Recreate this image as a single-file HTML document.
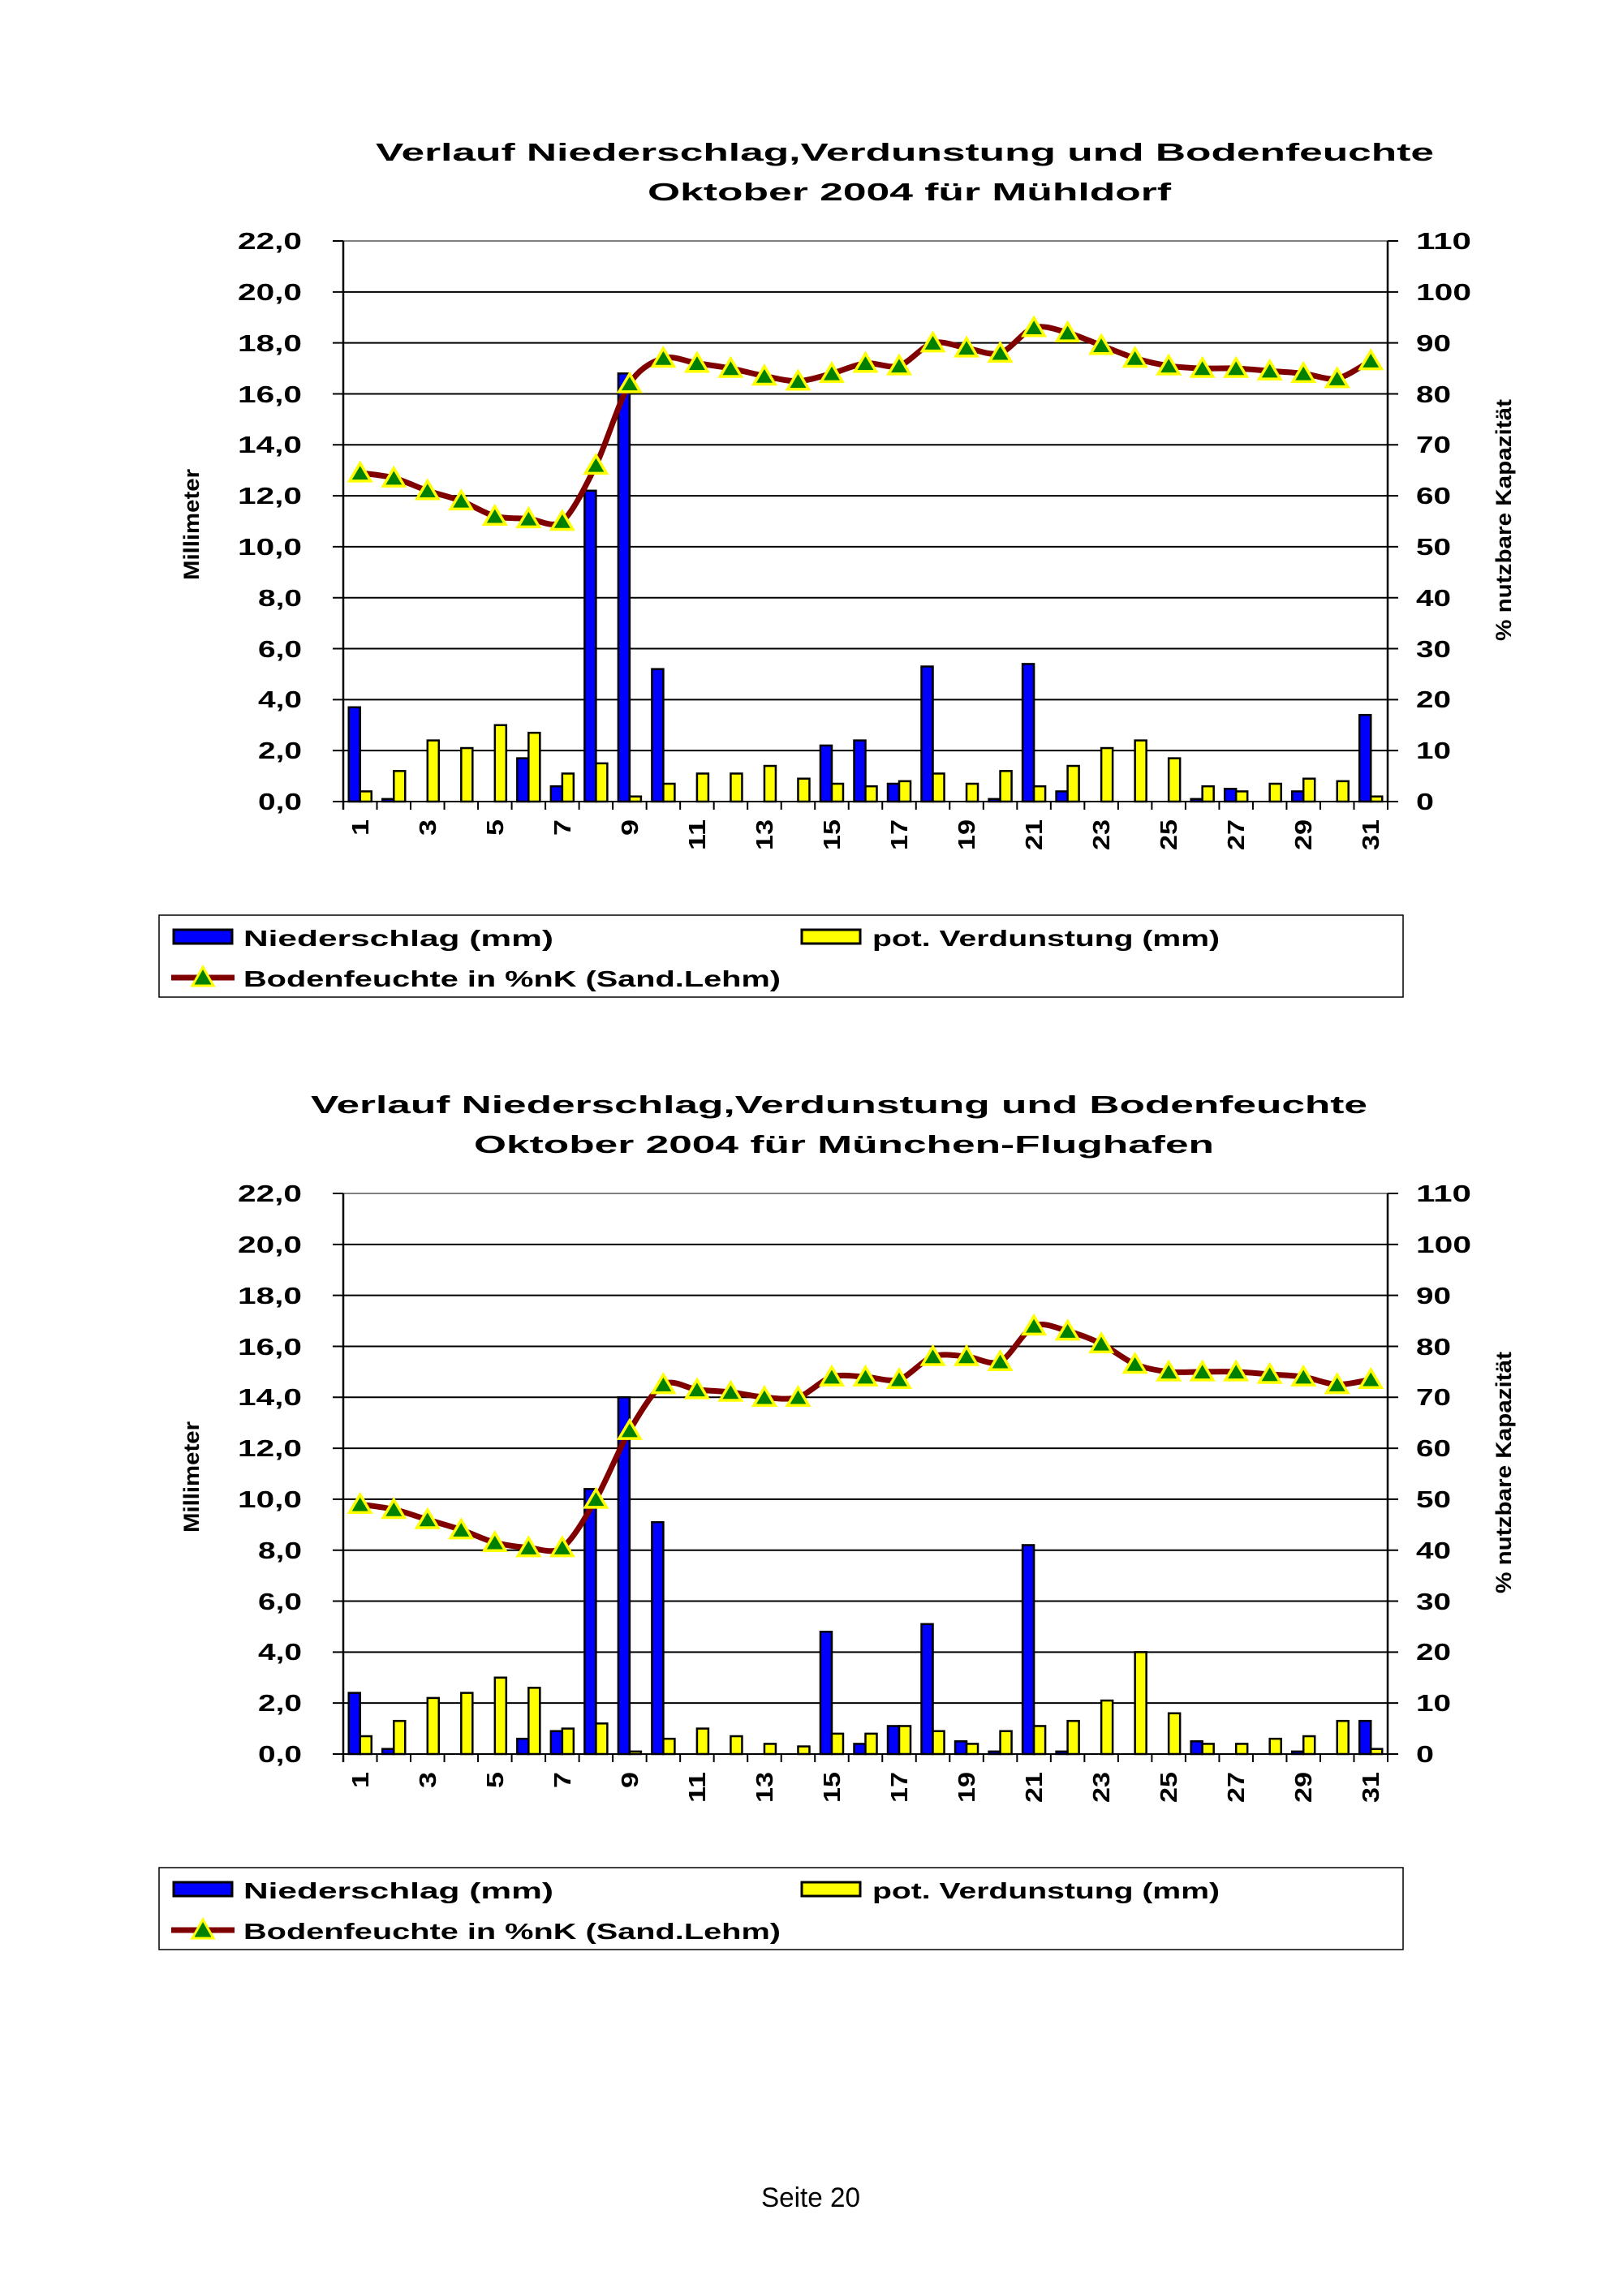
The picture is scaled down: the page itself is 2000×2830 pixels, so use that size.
<!DOCTYPE html>
<html><head><meta charset="utf-8"><style>
html,body{margin:0;padding:0;background:#fff;}
svg{display:block;}
text{font-family:"Liberation Sans",Arial,sans-serif;font-weight:bold;fill:#000;}
</style></head><body>
<svg id="s" width="2000" height="2830" viewBox="0 0 2000 2830" xmlns="http://www.w3.org/2000/svg">
<rect width="2000" height="2830" fill="#fff"/>
<!-- Chart 1 -->
<g id="c1">
<text x="463" y="198" font-size="31" textLength="1304" lengthAdjust="spacingAndGlyphs">Verlauf Niederschlag,Verdunstung und Bodenfeuchte</text>
<text x="798" y="247" font-size="31" textLength="645" lengthAdjust="spacingAndGlyphs">Oktober 2004 für Mühldorf</text>
<g class="ax"></g>
<g font-size="29" text-anchor="end">
<text x="372" y="307" textLength="79" lengthAdjust="spacingAndGlyphs">22,0</text><text x="372" y="370" textLength="79" lengthAdjust="spacingAndGlyphs">20,0</text><text x="372" y="433" textLength="79" lengthAdjust="spacingAndGlyphs">18,0</text><text x="372" y="496" textLength="79" lengthAdjust="spacingAndGlyphs">16,0</text><text x="372" y="558" textLength="79" lengthAdjust="spacingAndGlyphs">14,0</text><text x="372" y="621" textLength="79" lengthAdjust="spacingAndGlyphs">12,0</text><text x="372" y="684" textLength="79" lengthAdjust="spacingAndGlyphs">10,0</text><text x="372" y="747" textLength="54" lengthAdjust="spacingAndGlyphs">8,0</text><text x="372" y="810" textLength="54" lengthAdjust="spacingAndGlyphs">6,0</text><text x="372" y="872" textLength="54" lengthAdjust="spacingAndGlyphs">4,0</text><text x="372" y="935" textLength="54" lengthAdjust="spacingAndGlyphs">2,0</text><text x="372" y="998" textLength="54" lengthAdjust="spacingAndGlyphs">0,0</text>
</g>
<g font-size="29">
<text x="1745" y="307" textLength="68" lengthAdjust="spacingAndGlyphs">110</text><text x="1745" y="370" textLength="68" lengthAdjust="spacingAndGlyphs">100</text><text x="1745" y="433" textLength="43" lengthAdjust="spacingAndGlyphs">90</text><text x="1745" y="496" textLength="43" lengthAdjust="spacingAndGlyphs">80</text><text x="1745" y="558" textLength="43" lengthAdjust="spacingAndGlyphs">70</text><text x="1745" y="621" textLength="43" lengthAdjust="spacingAndGlyphs">60</text><text x="1745" y="684" textLength="43" lengthAdjust="spacingAndGlyphs">50</text><text x="1745" y="747" textLength="43" lengthAdjust="spacingAndGlyphs">40</text><text x="1745" y="810" textLength="43" lengthAdjust="spacingAndGlyphs">30</text><text x="1745" y="872" textLength="43" lengthAdjust="spacingAndGlyphs">20</text><text x="1745" y="935" textLength="43" lengthAdjust="spacingAndGlyphs">10</text><text x="1745" y="998" textLength="22" lengthAdjust="spacingAndGlyphs">0</text>
</g>
<g font-size="29" text-anchor="end">
<text transform="translate(454,1010) rotate(-90)" textLength="20" lengthAdjust="spacingAndGlyphs">1</text><text transform="translate(537,1010) rotate(-90)" textLength="20" lengthAdjust="spacingAndGlyphs">3</text><text transform="translate(620,1010) rotate(-90)" textLength="20" lengthAdjust="spacingAndGlyphs">5</text><text transform="translate(703,1010) rotate(-90)" textLength="20" lengthAdjust="spacingAndGlyphs">7</text><text transform="translate(786,1010) rotate(-90)" textLength="20" lengthAdjust="spacingAndGlyphs">9</text><text transform="translate(869,1010) rotate(-90)" textLength="38" lengthAdjust="spacingAndGlyphs">11</text><text transform="translate(952,1010) rotate(-90)" textLength="38" lengthAdjust="spacingAndGlyphs">13</text><text transform="translate(1035,1010) rotate(-90)" textLength="38" lengthAdjust="spacingAndGlyphs">15</text><text transform="translate(1118,1010) rotate(-90)" textLength="38" lengthAdjust="spacingAndGlyphs">17</text><text transform="translate(1201,1010) rotate(-90)" textLength="38" lengthAdjust="spacingAndGlyphs">19</text><text transform="translate(1284,1010) rotate(-90)" textLength="38" lengthAdjust="spacingAndGlyphs">21</text><text transform="translate(1367,1010) rotate(-90)" textLength="38" lengthAdjust="spacingAndGlyphs">23</text><text transform="translate(1450,1010) rotate(-90)" textLength="38" lengthAdjust="spacingAndGlyphs">25</text><text transform="translate(1533,1010) rotate(-90)" textLength="38" lengthAdjust="spacingAndGlyphs">27</text><text transform="translate(1616,1010) rotate(-90)" textLength="38" lengthAdjust="spacingAndGlyphs">29</text><text transform="translate(1699,1010) rotate(-90)" textLength="38" lengthAdjust="spacingAndGlyphs">31</text>
</g>
<text transform="translate(245,715) rotate(-90)" font-size="27" textLength="137" lengthAdjust="spacingAndGlyphs">Millimeter</text>
<text transform="translate(1862,790) rotate(-90)" font-size="27" textLength="298" lengthAdjust="spacingAndGlyphs">% nutzbare Kapazität</text>
<rect x="196" y="1128" width="1533" height="101" fill="none" stroke="#000" stroke-width="1.5"/>
<rect x="214" y="1146" width="72" height="17" fill="#0000ff" stroke="#000" stroke-width="3"/>
<text x="300" y="1166" font-size="28" textLength="382" lengthAdjust="spacingAndGlyphs">Niederschlag (mm)</text>
<rect x="988" y="1146" width="72" height="17" fill="#ffff00" stroke="#000" stroke-width="3"/>
<text x="1075" y="1166" font-size="28" textLength="428" lengthAdjust="spacingAndGlyphs">pot. Verdunstung (mm)</text>
<line x1="211" y1="1205" x2="289" y2="1205" stroke="#800000" stroke-width="7"/>
<polygon points="250,1192 263,1215 237,1215" fill="#008000" stroke="#ffff00" stroke-width="3"/>
<text x="300" y="1216" font-size="28" textLength="662" lengthAdjust="spacingAndGlyphs">Bodenfeuchte in %nK (Sand.Lehm)</text>
</g>
<!-- Chart 2 -->
<g id="c2" transform="translate(0,1174)">
<text x="383" y="198" font-size="31" textLength="1302" lengthAdjust="spacingAndGlyphs">Verlauf Niederschlag,Verdunstung und Bodenfeuchte</text>
<text x="584" y="247" font-size="31" textLength="912" lengthAdjust="spacingAndGlyphs">Oktober 2004 für München-Flughafen</text>
<g class="ax"></g>
<g font-size="29" text-anchor="end">
<text x="372" y="307" textLength="79" lengthAdjust="spacingAndGlyphs">22,0</text><text x="372" y="370" textLength="79" lengthAdjust="spacingAndGlyphs">20,0</text><text x="372" y="433" textLength="79" lengthAdjust="spacingAndGlyphs">18,0</text><text x="372" y="496" textLength="79" lengthAdjust="spacingAndGlyphs">16,0</text><text x="372" y="558" textLength="79" lengthAdjust="spacingAndGlyphs">14,0</text><text x="372" y="621" textLength="79" lengthAdjust="spacingAndGlyphs">12,0</text><text x="372" y="684" textLength="79" lengthAdjust="spacingAndGlyphs">10,0</text><text x="372" y="747" textLength="54" lengthAdjust="spacingAndGlyphs">8,0</text><text x="372" y="810" textLength="54" lengthAdjust="spacingAndGlyphs">6,0</text><text x="372" y="872" textLength="54" lengthAdjust="spacingAndGlyphs">4,0</text><text x="372" y="935" textLength="54" lengthAdjust="spacingAndGlyphs">2,0</text><text x="372" y="998" textLength="54" lengthAdjust="spacingAndGlyphs">0,0</text>
</g>
<g font-size="29">
<text x="1745" y="307" textLength="68" lengthAdjust="spacingAndGlyphs">110</text><text x="1745" y="370" textLength="68" lengthAdjust="spacingAndGlyphs">100</text><text x="1745" y="433" textLength="43" lengthAdjust="spacingAndGlyphs">90</text><text x="1745" y="496" textLength="43" lengthAdjust="spacingAndGlyphs">80</text><text x="1745" y="558" textLength="43" lengthAdjust="spacingAndGlyphs">70</text><text x="1745" y="621" textLength="43" lengthAdjust="spacingAndGlyphs">60</text><text x="1745" y="684" textLength="43" lengthAdjust="spacingAndGlyphs">50</text><text x="1745" y="747" textLength="43" lengthAdjust="spacingAndGlyphs">40</text><text x="1745" y="810" textLength="43" lengthAdjust="spacingAndGlyphs">30</text><text x="1745" y="872" textLength="43" lengthAdjust="spacingAndGlyphs">20</text><text x="1745" y="935" textLength="43" lengthAdjust="spacingAndGlyphs">10</text><text x="1745" y="998" textLength="22" lengthAdjust="spacingAndGlyphs">0</text>
</g>
<g font-size="29" text-anchor="end">
<text transform="translate(454,1010) rotate(-90)" textLength="20" lengthAdjust="spacingAndGlyphs">1</text><text transform="translate(537,1010) rotate(-90)" textLength="20" lengthAdjust="spacingAndGlyphs">3</text><text transform="translate(620,1010) rotate(-90)" textLength="20" lengthAdjust="spacingAndGlyphs">5</text><text transform="translate(703,1010) rotate(-90)" textLength="20" lengthAdjust="spacingAndGlyphs">7</text><text transform="translate(786,1010) rotate(-90)" textLength="20" lengthAdjust="spacingAndGlyphs">9</text><text transform="translate(869,1010) rotate(-90)" textLength="38" lengthAdjust="spacingAndGlyphs">11</text><text transform="translate(952,1010) rotate(-90)" textLength="38" lengthAdjust="spacingAndGlyphs">13</text><text transform="translate(1035,1010) rotate(-90)" textLength="38" lengthAdjust="spacingAndGlyphs">15</text><text transform="translate(1118,1010) rotate(-90)" textLength="38" lengthAdjust="spacingAndGlyphs">17</text><text transform="translate(1201,1010) rotate(-90)" textLength="38" lengthAdjust="spacingAndGlyphs">19</text><text transform="translate(1284,1010) rotate(-90)" textLength="38" lengthAdjust="spacingAndGlyphs">21</text><text transform="translate(1367,1010) rotate(-90)" textLength="38" lengthAdjust="spacingAndGlyphs">23</text><text transform="translate(1450,1010) rotate(-90)" textLength="38" lengthAdjust="spacingAndGlyphs">25</text><text transform="translate(1533,1010) rotate(-90)" textLength="38" lengthAdjust="spacingAndGlyphs">27</text><text transform="translate(1616,1010) rotate(-90)" textLength="38" lengthAdjust="spacingAndGlyphs">29</text><text transform="translate(1699,1010) rotate(-90)" textLength="38" lengthAdjust="spacingAndGlyphs">31</text>
</g>
<text transform="translate(245,715) rotate(-90)" font-size="27" textLength="137" lengthAdjust="spacingAndGlyphs">Millimeter</text>
<text transform="translate(1862,790) rotate(-90)" font-size="27" textLength="298" lengthAdjust="spacingAndGlyphs">% nutzbare Kapazität</text>
<rect x="196" y="1128" width="1533" height="101" fill="none" stroke="#000" stroke-width="1.5"/>
<rect x="214" y="1146" width="72" height="17" fill="#0000ff" stroke="#000" stroke-width="3"/>
<text x="300" y="1166" font-size="28" textLength="382" lengthAdjust="spacingAndGlyphs">Niederschlag (mm)</text>
<rect x="988" y="1146" width="72" height="17" fill="#ffff00" stroke="#000" stroke-width="3"/>
<text x="1075" y="1166" font-size="28" textLength="428" lengthAdjust="spacingAndGlyphs">pot. Verdunstung (mm)</text>
<line x1="211" y1="1205" x2="289" y2="1205" stroke="#800000" stroke-width="7"/>
<polygon points="250,1192 263,1215 237,1215" fill="#008000" stroke="#ffff00" stroke-width="3"/>
<text x="300" y="1216" font-size="28" textLength="662" lengthAdjust="spacingAndGlyphs">Bodenfeuchte in %nK (Sand.Lehm)</text>
</g>
<text x="938" y="2720" font-size="34" style="font-weight:normal" textLength="122" lengthAdjust="spacingAndGlyphs">Seite 20</text>
</svg>
<script>
(function(){
var NS="http://www.w3.org/2000/svg";
var L=423,R=1710,T=297,B=988,u=(B-T)/22,w=(R-L)/31;
function el(p,n,a){var e=document.createElementNS(NS,n);for(var k in a)e.setAttribute(k,a[k]);p.appendChild(e);return e;}
var D=[
{n:[3.7,0.1,0,0,0,1.7,0.6,12.2,16.8,5.2,0,0,0,0,2.2,2.4,0.7,5.3,0,0.1,5.4,0.4,0,0,0,0.1,0.5,0,0.4,0,3.4],
 v:[0.4,1.2,2.4,2.1,3.0,2.7,1.1,1.5,0.2,0.7,1.1,1.1,1.4,0.9,0.7,0.6,0.8,1.1,0.7,1.2,0.6,1.4,2.1,2.4,1.7,0.6,0.4,0.7,0.9,0.8,0.2],
 b:[64.5,63.5,61,59,56,55.5,55,66,82,87,86,85,83.5,82.5,84,86,85.5,90,89,88,93,92,89.5,87,85.5,85,85,84.5,84,83,86.5]},
{n:[2.4,0.2,0,0,0,0.6,0.9,10.4,14.0,9.1,0,0,0,0,4.8,0.4,1.1,5.1,0.5,0.1,8.2,0.1,0,0,0,0.5,0,0,0.1,0,1.3],
 v:[0.7,1.3,2.2,2.4,3.0,2.6,1.0,1.2,0.1,0.6,1.0,0.7,0.4,0.3,0.8,0.8,1.1,0.9,0.4,0.9,1.1,1.3,2.1,4.0,1.6,0.4,0.4,0.6,0.7,1.3,0.2],
 b:[49,48,46,44,41.5,40.5,40.5,50,63.5,72.5,71.5,71,70,70,74,74,73.5,78,78,77,84,83,80.5,76.5,75,75,75,74.5,74,72.5,73.5]}];
var gs=document.querySelectorAll(".ax");
for(var c=0;c<2;c++){
 var g=gs[c],d=D[c];
 for(var i=0;i<=11;i++){var y=B-i*2*u;
  el(g,"line",{x1:410,x2:1723,y1:y,y2:y,stroke:i==11?"#808080":"#000","stroke-width":2});}
 el(g,"line",{x1:410,x2:L,y1:T,y2:T,stroke:"#000","stroke-width":2});
 el(g,"line",{x1:R,x2:1723,y1:T,y2:T,stroke:"#000","stroke-width":2});
 el(g,"line",{x1:L,x2:L,y1:T,y2:B+10,stroke:"#000","stroke-width":2.5});
 el(g,"line",{x1:R,x2:R,y1:T,y2:B,stroke:"#000","stroke-width":2.5});
 for(var i=1;i<=31;i++){var x=L+i*w;el(g,"line",{x1:x,x2:x,y1:B,y2:B+10,stroke:"#000","stroke-width":2});}
 for(var i=0;i<31;i++){var cx=L+(i+0.5)*w;
  if(d.n[i]>0){var h=d.n[i]*u;el(g,"rect",{x:cx-14,y:B-h,width:14,height:h,fill:"#0000ff",stroke:"#000","stroke-width":2.5});}
  if(d.v[i]>0){var h=d.v[i]*u;el(g,"rect",{x:cx,y:B-h,width:14,height:h,fill:"#ffff00",stroke:"#000","stroke-width":2.5});}
 }
 var P=[];for(var i=0;i<31;i++)P.push([L+(i+0.5)*w,B-d.b[i]/5*u]);
 var s="M"+P[0][0]+","+P[0][1];
 for(var i=0;i<30;i++){var p0=P[Math.max(i-1,0)],p1=P[i],p2=P[i+1],p3=P[Math.min(i+2,30)],t=0.15;
  s+=" C"+(p1[0]+(p2[0]-p0[0])*t)+","+(p1[1]+(p2[1]-p0[1])*t)+" "+(p2[0]-(p3[0]-p1[0])*t)+","+(p2[1]-(p3[1]-p1[1])*t)+" "+p2[0]+","+p2[1];}
 el(g,"path",{d:s,fill:"none",stroke:"#800000","stroke-width":7,"stroke-linejoin":"round"});
 for(var i=0;i<31;i++){var x=P[i][0],y=P[i][1];
  el(g,"polygon",{points:x+","+(y-12)+" "+(x+13)+","+(y+10)+" "+(x-13)+","+(y+10),fill:"#008000",stroke:"#ffff00","stroke-width":3.5});}
}
})();
</script>
</body></html>
